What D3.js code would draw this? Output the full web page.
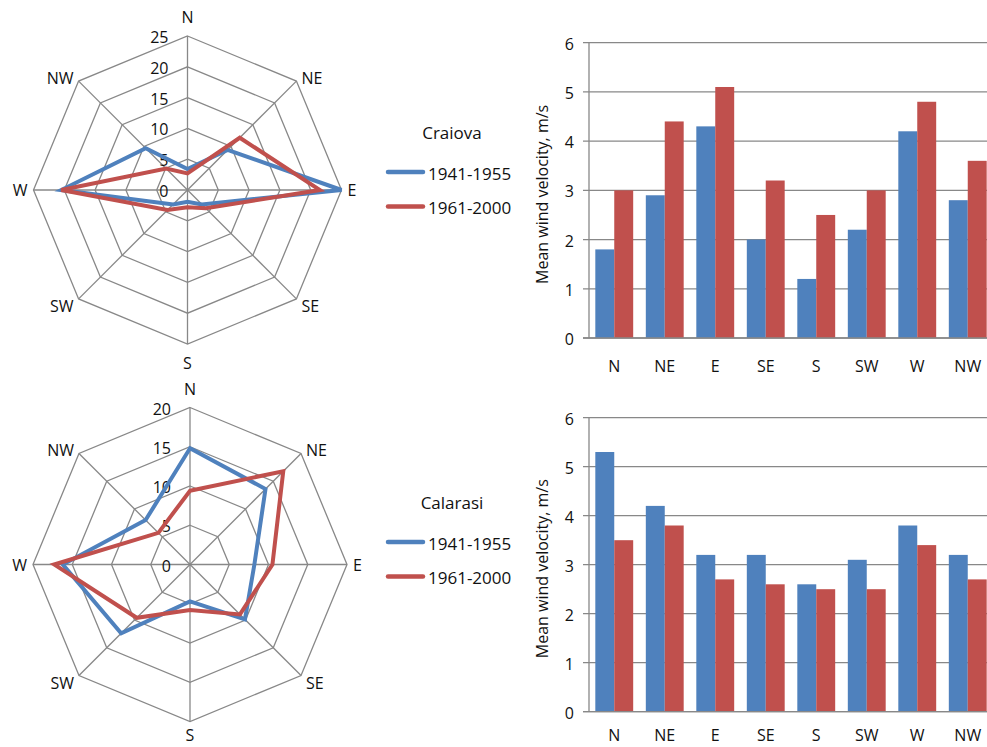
<!DOCTYPE html>
<html><head><meta charset="utf-8">
<script src="https://cdn.jsdelivr.net/npm/d3@7"></script>
<style>
body{margin:0;background:#fff;}
svg{display:block;}
text{font-family:"Open Sans",sans-serif;fill:#111;}
</style></head>
<body><svg id="c" width="987" height="747"></svg>
<script>
const directions = ["N","NE","E","SE","S","SW","W","NW"];
const seriesNames = ["1941-1955","1961-2000"];
const colors = ["#4F81BD","#C0504D"];

// Radar (frequency) data
const craiovaFreq1941 = [3.4, 9.2, 25, 3.3, 1.9, 3.3, 20.5, 9.6];
const craiovaFreq1961 = [2.7, 12, 21.5, 4.2, 2.8, 4.6, 20.5, 4.9];
const calarasiFreq1941 = [14.8, 13.6, 8.2, 9.9, 4.7, 12.4, 16.2, 8.0];
const calarasiFreq1961 = [9.4, 16.8, 10.5, 9.0, 5.8, 9.6, 17.3, 5.7];
const craiovaRadarTicks = [0,5,10,15,20,25];
const calarasiRadarTicks = [0,5,10,15,20];

// Bar (mean wind velocity) data
const craiovaVel1941 = [1.8, 2.9, 4.3, 2.0, 1.2, 2.2, 4.2, 2.8];
const craiovaVel1961 = [3.0, 4.4, 5.1, 3.2, 2.5, 3.0, 4.8, 3.6];
const calarasiVel1941 = [5.3, 4.2, 3.2, 3.2, 2.6, 3.1, 3.8, 3.2];
const calarasiVel1961 = [3.5, 3.8, 2.7, 2.6, 2.5, 2.5, 3.4, 2.7];
const velTicks = [0,1,2,3,4,5,6];

const stations = ["Craiova","Calarasi"];
const yTitle = "Mean wind velocity, m/s";

const svg = d3.select("#c");
svg.append("rect").attr("width",987).attr("height",747).attr("fill","#fff");
const grid = "#888888";
const FS = 16;

function radar(cx, cy, R, ticks, series, maxLabelY) {
  const g = svg.append("g");
  const maxV = ticks[ticks.length-1];
  const r = d3.scaleLinear().domain([0,maxV]).range([0,R]);
  const ang = d3.scalePoint().domain(directions).range([0, 2*Math.PI*7/8]);
  const pt = (d,v)=>[cx + r(v)*Math.sin(ang(d)), cy - r(v)*Math.cos(ang(d))];
  ticks.slice(1).forEach(t=>{
    g.append("path").attr("d", d3.line()(directions.map(d=>pt(d,t)))+"Z")
      .attr("fill","none").attr("stroke",grid).attr("stroke-width",1.3);
  });
  directions.forEach(d=>{
    const p = pt(d,maxV);
    g.append("line").attr("x1",cx).attr("y1",cy).attr("x2",p[0]).attr("y2",p[1])
      .attr("stroke",grid).attr("stroke-width",1.3);
  });
  ticks.forEach(t=>{
    g.append("text").attr("x",cx-19).attr("y",cy-r(t)+1).attr("text-anchor","end")
      .attr("dominant-baseline","central").attr("font-size",FS).text(t);
  });
  series.forEach((s,i)=>{
    g.append("path").attr("d", d3.line()(directions.map((d,j)=>pt(d,s[j])))+"Z")
      .attr("fill","none").attr("stroke",colors[i]).attr("stroke-width",4)
      .attr("stroke-linejoin","miter");
  });
  directions.forEach(d=>{
    const p = pt(d,maxV);
    const a = ang(d);
    const s = Math.round(Math.sin(a)*100)/100, c = Math.round(Math.cos(a)*100)/100;
    let x=p[0], y=p[1], anchor="middle";
    if (s===0) { y = c>0 ? p[1]-19 : Math.min(p[1]+19, maxLabelY); }
    else if (c===0) { anchor = s>0?"start":"end"; x = p[0] + (s>0?6:-6); }
    else { anchor = s>0?"start":"end"; x = p[0] + (s>0?5:-5); y = p[1] + (c>0?-3:7); }
    g.append("text").attr("x",x).attr("y",y).attr("text-anchor",anchor)
      .attr("dominant-baseline","central").attr("font-size",FS).text(d);
  });
}

function legend(x, y, title) {
  const g = svg.append("g");
  g.append("text").attr("x",x+66).attr("y",y).attr("text-anchor","middle")
    .attr("dominant-baseline","central").attr("font-size",FS+1).text(title);
  seriesNames.forEach((n,i)=>{
    const yy = y + 40 + i*34.5;
    g.append("line").attr("x1",x+2).attr("x2",x+37).attr("y1",yy).attr("y2",yy)
      .attr("stroke",colors[i]).attr("stroke-width",4.5).attr("stroke-linecap","round");
    g.append("text").attr("x",x+42).attr("y",yy+1).attr("dominant-baseline","central")
      .attr("font-size",FS+1).text(n);
  });
}

function bars(yTop, yBottom, s1, s2, labelY) {
  const g = svg.append("g");
  const x = d3.scaleBand().domain(directions).range([589, 993]).paddingInner(0.25).paddingOuter(0.125);
  const xs = d3.scaleBand().domain([0,1]).range([0, x.bandwidth()]);
  const y = d3.scaleLinear().domain([0,6]).range([yBottom, yTop]);
  velTicks.forEach(t=>{
    g.append("line").attr("x1",583).attr("x2",993).attr("y1",y(t)).attr("y2",y(t))
      .attr("stroke",grid).attr("stroke-width",1.3);
    g.append("text").attr("x",574).attr("y",y(t)+1).attr("text-anchor","end")
      .attr("dominant-baseline","central").attr("font-size",FS).text(t);
  });
  [s1,s2].forEach((s,i)=>{
    g.selectAll(null).data(directions).enter().append("rect")
      .attr("x",d=>x(d)+xs(i)).attr("width",xs.bandwidth())
      .attr("y",(d,j)=>y(s[j])).attr("height",(d,j)=>y(0)-y(s[j]))
      .attr("fill",colors[i]);
  });
  g.append("line").attr("x1",589).attr("x2",589).attr("y1",y(6)).attr("y2",y(0))
    .attr("stroke",grid).attr("stroke-width",1.3);
  g.append("line").attr("x1",583).attr("x2",993).attr("y1",y(0)).attr("y2",y(0))
    .attr("stroke",grid).attr("stroke-width",1.3);
  directions.forEach(d=>{
    g.append("text").attr("x",x(d)+x.bandwidth()/2).attr("y",labelY)
      .attr("text-anchor","middle").attr("dominant-baseline","central").attr("font-size",FS).text(d);
  });
  const cy = (yTop+yBottom)/2 + 4;
  g.append("text").attr("transform",`translate(542,${cy}) rotate(-90)`)
    .attr("text-anchor","middle").attr("dominant-baseline","central").attr("font-size",FS).text(yTitle);
}

radar(187.5, 190, 154, craiovaRadarTicks, [craiovaFreq1941, craiovaFreq1961], 363);
radar(190, 564.5, 157, calarasiRadarTicks, [calarasiFreq1941, calarasiFreq1961], 735);
legend(386, 132, stations[0]);
legend(386, 502, stations[1]);
bars(42.7, 338, craiovaVel1941, craiovaVel1961, 366);
bars(417.7, 711.7, calarasiVel1941, calarasiVel1961, 735);
</script></body></html>
